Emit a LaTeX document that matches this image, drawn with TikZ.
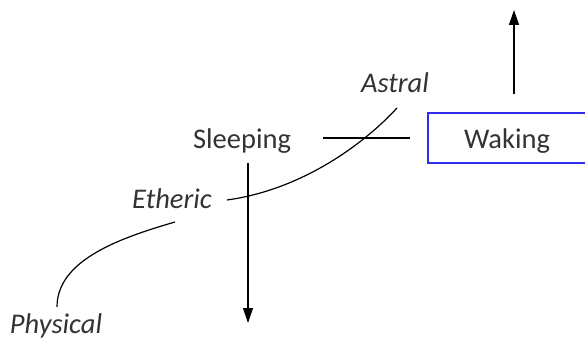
\documentclass[tikz,border=0pt]{standalone}
\usepackage{fontspec}
\setmainfont{Carlito}
\usetikzlibrary{arrows.meta,calc}

\begin{document}
\begin{tikzpicture}[
  x=1pt, y=-1pt,
  >={Triangle[length=15pt,width=10pt]},
  font=\fontsize{28.5}{32}\selectfont,
  word/.style={text=black!80, inner sep=2pt, text height=22.8pt, text depth=2.8pt},
  plane/.style={word, font=\fontsize{28.5}{32}\selectfont\itshape},
  state/.style={word, draw={rgb,255:red,45;green,45;blue,235}, line width=1.5pt, minimum width=158pt, minimum height=50pt},
  line/.style={line width=1.2pt},
  arrow/.style={->, line width=1.2pt}
]
\path[use as bounding box, fill=white] (0,0) rectangle (585,339);

\node[word] (sleep) at (242,138) {Sleeping};
\node[state] (wake) at (507,138) {Waking};
\node[plane] (astral) at (395,83) {Astral};
\node[plane] (ether) at (172,198) {Etheric};
\node[plane] (phys) at (56,323) {Physical};

\coordinate (down) at (248,323);
\coordinate (up) at (514,10);

\draw[line, shorten <=30pt, shorten >=17pt] (sleep.east |- wake.west) -- (wake.west);
\draw[arrow, shorten <=10pt] (sleep.south -| down) -- (down);
\draw[arrow, shorten <=18pt] (wake.north -| up) -- (up);
\draw[line] ([shift={(2,10)}]astral.south) .. controls +(-35,38) and +(73,-10) .. ([shift={(13,2)}]ether.east);
\draw[line] ([shift={(3,9)}]ether.south) .. controls +(-55,16) and +(0,-47) .. ([shift={(1,-1)}]phys.north);
\end{tikzpicture}
\end{document}
